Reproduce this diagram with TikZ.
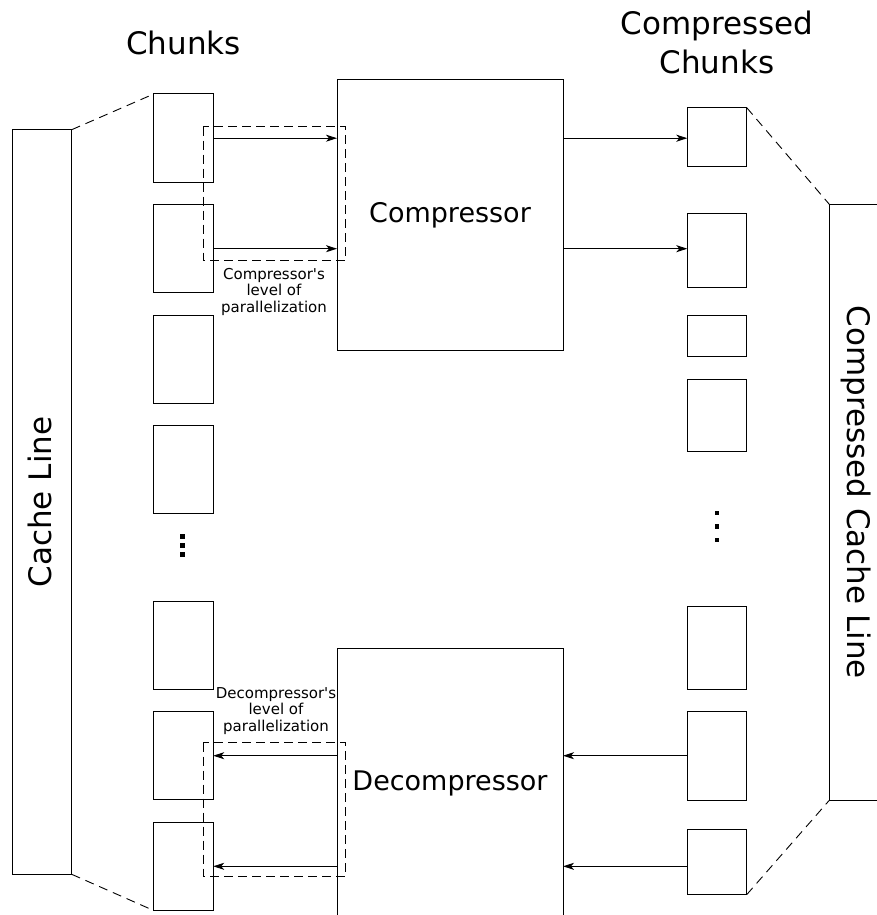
\documentclass[tikz,border=0pt]{standalone}
\usepackage{fontspec}
\setmainfont{DejaVu Sans}
\usepackage{graphicx}
\usetikzlibrary{arrows.meta}
\begin{document}
\begin{tikzpicture}[x=1pt,y=-1pt,
  box/.style={draw, line width=1pt, inner sep=0pt, outer sep=0pt},
  chunk/.style={box, minimum width=59.4pt, minimum height=88.5pt},
  cchunk/.style={box, minimum width=59.4pt},
  arr/.style={line width=1pt, -{Stealth[length=11pt,width=7pt,inset=3pt]}},
  zoomline/.style={line width=0.9pt, dash pattern=on 9pt off 6pt},
  parbox/.style={line width=0.9pt, dash pattern=on 9pt off 5pt},
  bigtext/.style={font=\fontsize{31}{39}\selectfont},
  midtext/.style={font=\fontsize{27}{33}\selectfont},
  smalltext/.style={font=\fontsize{15}{16.5}\selectfont, align=center, inner sep=0pt},
]
\useasboundingbox (0,0) rectangle (877,915);
\clip (0,0) rectangle (877,915);

% titles
\node[bigtext, anchor=base] (t1) at (183.7,55) {Chunks};
\node[bigtext, align=center, anchor=south, inner sep=0pt] (t2) at (717,74) {Compressed\\Chunks};

% cache lines
\node[box, minimum width=59.4pt, minimum height=744.6pt, bigtext] (cl) at (42,502)
  {\rotatebox{90}{Cache Line\rule[-4pt]{0pt}{0pt}}};
\node[box, minimum width=53pt, minimum height=596pt, bigtext] (ccl) at (855.8,502.3)
  {\rotatebox{-90}{Compressed Cache Line\hspace*{20pt}}};

% chunks
\node[chunk] (ch1) at (183.5,138.2) {};
\node[chunk] (ch2) at (183.5,248.7) {};
\node[chunk] (ch3) at (183.5,359.3) {};
\node[chunk] (ch4) at (183.5,469.7) {};
\node[chunk] (ch5) at (183.5,645.5) {};
\node[chunk] (ch6) at (183.5,755.7) {};
\node[chunk] (ch7) at (183.5,866.3) {};

% compressed chunks
\node[cchunk, minimum height=59.3pt] (cc1) at (717,137.3) {};
\node[cchunk, minimum height=74pt]   (cc2) at (717,250) {};
\node[cchunk, minimum height=41pt]   (cc3) at (717,335.8) {};
\node[cchunk, minimum height=71.7pt] (cc4) at (717,415.8) {};
\node[cchunk, minimum height=83pt]   (cc5) at (717,648.2) {};
\node[cchunk, minimum height=89pt]   (cc6) at (717,755.8) {};
\node[cchunk, minimum height=64.7pt] (cc7) at (717,862.3) {};

% (de)compressor
\node[box, minimum width=226pt, minimum height=270pt, midtext] (comp) at (450,215) {Compressor};
\node[box, minimum width=226pt, minimum height=270pt, midtext] (decomp) at (450,783.3) {Decompressor};

% dots
\foreach \y in {536,545,554} \fill (180.2,\y-2.5) rectangle (185.2,\y+2.5);
\foreach \y in {513,526.5,540} \fill (714.5,\y-2.25) rectangle (719,\y+2.25);

% zoom lines
\draw[zoomline] (cl.north east) -- (ch1.north west);
\draw[zoomline] (cl.south east) -- (ch7.south west);
\draw[zoomline] (cc1.north east) -- (ccl.north west);
\draw[zoomline] (cc7.south east) -- (ccl.south west);

% parallelization boxes
\draw[parbox] (203.3,126.7) rectangle (345.7,260);
\draw[parbox] (203.3,742.7) rectangle (345.7,876);
\node[smalltext, anchor=north] (lc) at (274,267.9) {Compressor\textquotesingle s\\level of\\parallelization};
\node[smalltext, anchor=north] (ld) at (276,687.3) {Decompressor\textquotesingle s\\level of\\parallelization};

% arrows
\draw[arr] (ch1.east) -- (ch1.east -| comp.west);
\draw[arr] (ch2.east) -- (ch2.east -| comp.west);
\draw[arr] (comp.east |- ch1.east) -- (ch1.east -| cc1.west);
\draw[arr] (comp.east |- ch2.east) -- (ch2.east -| cc2.west);
\draw[arr] (cc6.west |- ch6.east) -- (ch6.east -| decomp.east);
\draw[arr] (cc7.west |- ch7.east) -- (ch7.east -| decomp.east);
\draw[arr] (decomp.west |- ch6.east) -- (ch6.east);
\draw[arr] (decomp.west |- ch7.east) -- (ch7.east);
\end{tikzpicture}
\end{document}
